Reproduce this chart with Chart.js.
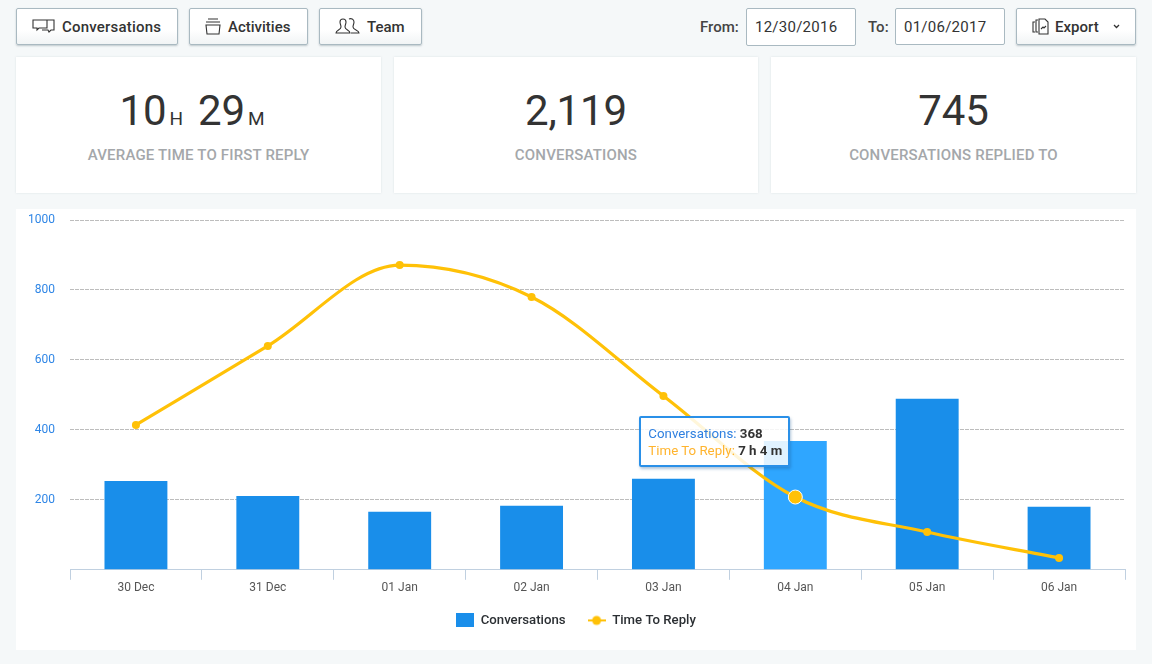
<!DOCTYPE html>
<html>
<head>
<meta charset="utf-8">
<script src="https://cdn.jsdelivr.net/npm/chart.js@4"></script>
<style>
  html, body { margin: 0; padding: 0; }
  body { width: 1152px; height: 664px; background: #f5f8f9; font-family: Roboto, sans-serif; color: #333; position: relative; overflow: hidden; }
  .btn, .date { position: absolute; top: 8px; height: 35px; box-sizing: content-box; border: 1px solid #a9b9c1; border-radius: 2px; line-height: 36px; font-size: 15px; }
  .btn { background: linear-gradient(#fff 60%, #f1f4f5); box-shadow: 0 1px 2px rgba(90,110,120,.35); font-weight: 500; white-space: nowrap; }
  .btn svg { position: absolute; top: 8px; fill: none; stroke: #333; stroke-width: 1.1; }
  .btn span { position: absolute; top: 0; }
  .date { background: #fff; font-size: 15px; padding-left: 8px; width: 100px; letter-spacing: .25px; }
  .lbl { position: absolute; top: 9px; line-height: 36px; font-size: 15px; font-weight: 500; color: #444; }
  .card { position: absolute; top: 57px; height: 136px; background: #fff; box-shadow: 0 0 2px rgba(120,140,150,.2); text-align: center; }
  .num { position: absolute; left: 0; right: 0; top: 27px; font-size: 42px; line-height: 54px; color: #333; letter-spacing: -.1px; }
  .num small { font-size: 19px; margin: 0 15px 0 3px; }
  .num small:last-child { margin-right: 13px; }
  .cap { position: absolute; left: 0; right: 0; top: 88px; font-size: 15px; line-height: 20px; font-weight: 500; color: #a4a7aa; letter-spacing: .18px; }
  #panel { position: absolute; left: 16px; top: 209px; width: 1120px; height: 441px; background: #fff; }
  #tip { position: absolute; display: none; box-sizing: border-box; width: 151px; height: 51px; padding: 7px 7px; background: rgba(255,255,255,.85); border: 2px solid #2a90e8; border-radius: 2px; box-shadow: 1px 2px 3px rgba(30,90,150,.35); font-size: 13.3px; line-height: 17px; white-space: nowrap; }
  #tip b { color: #333; font-weight: 700; }
</style>
</head>
<body>
<div class="btn" style="left:16px;width:160px">
  <svg style="left:15px" width="24" height="20" viewBox="0 0 24 20"><path d="M1 3h14v8H7l-2 2v-2H1zM15 3h7v10h-3l-2 2-1-2h-6"/></svg>
  <span style="left:45px;letter-spacing:.2px">Conversations</span>
</div>
<div class="btn" style="left:189px;width:117px">
  <svg style="left:14px" width="18" height="20" viewBox="0 0 18 20"><path d="M4 2h10M2 5h14M2 8h14l-1 9H3z"/></svg>
  <span style="left:38px">Activities</span>
</div>
<div class="btn" style="left:319px;width:101px">
  <svg style="left:15px" width="26" height="20" viewBox="0 0 26 20"><path d="M1 16c0-3 5-3 5-6 0-2-1-3-1-5 0-2 1-3 3-3s3 1 3 3c0 2-1 3-1 5 0 3 5 3 5 6zM14 2c2-1 5 0 5 3 0 2-1 3-1 5 0 3 6 3 6 6h-8"/></svg>
  <span style="left:47px">Team</span>
</div>
<div class="lbl" style="left:700px">From:</div>
<div class="date" style="left:746px;height:36px">12/30/2016</div>
<div class="lbl" style="left:868px">To:</div>
<div class="date" style="left:895px">01/06/2017</div>
<div class="btn" style="left:1016px;width:118px">
  <svg style="left:15px" width="18" height="20" viewBox="0 0 18 20"><path d="M3 5H1v10h2M6 3H4v12h2M7 2h6l3 3v12H7zM9 12l2-2 1 1 2-2"/></svg>
  <span style="left:38px">Export</span>
  <svg style="left:95px;top:15px;stroke-width:1.3" width="9" height="6" viewBox="0 0 9 6"><path d="M2 1l2.5 2.5L7 1"/></svg>
</div>

<div class="card" style="left:16px;width:365px">
  <div class="num">10<small>H</small>29<small>M</small></div>
  <div class="cap">AVERAGE TIME TO FIRST REPLY</div>
</div>
<div class="card" style="left:394px;width:364px">
  <div class="num">2,119</div>
  <div class="cap">CONVERSATIONS</div>
</div>
<div class="card" style="left:771px;width:365px">
  <div class="num">745</div>
  <div class="cap">CONVERSATIONS REPLIED TO</div>
</div>

<div id="panel">
  <canvas id="chart" width="1120" height="441"></canvas>
  <div id="tip"></div>
</div>

<script>
const days          = ['30 Dec', '31 Dec', '01 Jan', '02 Jan', '03 Jan', '04 Jan', '05 Jan', '06 Jan'];
const conversations = [254, 211, 166, 183, 260, 368, 489, 180];
const timeToReply   = [414, 640, 871, 780, 497, 208, 108, 34];
const yTicks        = [1000, 800, 600, 400, 200];
const seriesNames   = ['Conversations', 'Time To Reply'];
const hoveredDay    = 5;
const hoveredReply  = '7 h 4 m';

const BLUE   = '#198eea';
const ORANGE = '#ffc107';

// legend swatches, the library takes a canvas as point style
function swatch(draw) {
  const c = document.createElement('canvas');
  c.width = 18; c.height = 14;
  draw(c.getContext('2d'));
  return c;
}
const barSwatch = swatch(g => { g.fillStyle = BLUE; g.fillRect(0, 0, 18, 14); });
const lineSwatch = swatch(g => {
  g.fillStyle = ORANGE;
  g.fillRect(0, 6, 18, 2);
  g.beginPath(); g.arc(9, 7, 4.5, 0, Math.PI * 2); g.fill();
});

function renderTip({ chart, tooltip }) {
  const tip = document.getElementById('tip');
  if (!tooltip.dataPoints || !tooltip.dataPoints.length) { tip.style.display = 'none'; return; }
  const point = chart.getDatasetMeta(1).data[hoveredDay];
  tip.style.display = 'block';
  tip.style.left = (point.x - 156) + 'px';
  tip.style.top  = (point.y - 81) + 'px';
  tip.innerHTML =
    `<div style="color:#2f80e0">${seriesNames[0]}: <b>${conversations[hoveredDay]}</b></div>` +
    `<div style="color:#ffb42e">${seriesNames[1]}: <b>${hoveredReply}</b></div>`;
}

const chart = new Chart(document.getElementById('chart'), {
  data: {
    labels: days,
    datasets: [
      {
        type: 'bar',
        label: seriesNames[0],
        data: conversations,
        order: 2,
        backgroundColor: BLUE,
        hoverBackgroundColor: '#2fa6ff',
        barPercentage: 0.477,
        categoryPercentage: 1
      },
      {
        type: 'line',
        label: seriesNames[1],
        data: timeToReply,
        order: 1,
        borderColor: ORANGE,
        backgroundColor: ORANGE,
        borderWidth: 3.2,
        cubicInterpolationMode: 'monotone',
        pointRadius: 4,
        pointBorderWidth: 0,
        pointHoverRadius: 7,
        pointHoverBorderWidth: 1,
        pointHoverBackgroundColor: ORANGE,
        pointHoverBorderColor: '#fff'
      }
    ]
  },
  options: {
    responsive: false,
    animation: false,
    events: [],
    layout: { padding: { top: 0, right: 11, bottom: 13, left: 11 } },
    interaction: { mode: 'index', intersect: false },
    plugins: {
      tooltip: { enabled: false, external: renderTip },
      legend: {
        position: 'bottom',
        labels: {
          usePointStyle: true,
          pointStyleWidth: 18,
          boxHeight: 14,
          padding: 22,
          color: '#2b2f33',
          font: { family: 'Roboto', size: 13.2, weight: '500' },
          generateLabels: () => seriesNames.map((text, i) => ({
            text,
            datasetIndex: i,
            fontColor: '#2b2f33',
            pointStyle: i === 0 ? barSwatch : lineSwatch,
            lineWidth: 0
          }))
        }
      }
    },
    scales: {
      x: {
        grid: { drawOnChartArea: false, color: '#c0d0e0', tickLength: 10, offset: true },
        border: { color: '#c0d0e0' },
        ticks: { color: '#555', padding: 1, maxRotation: 0, font: { family: 'Roboto', size: 12 } },
        afterFit: s => { s.height = 22; }
      },
      y: {
        min: 0,
        max: 1000,
        afterBuildTicks: s => { s.ticks = yTicks.concat(0).map(value => ({ value })); },
        grid: { color: '#bdbdbd', drawTicks: false },
        border: { display: false, dash: [4, 1] },
        ticks: {
          color: '#2f86e6',
          padding: 15,
          font: { family: 'Roboto', size: 12 },
          callback: v => (yTicks.includes(v) ? v : '')
        },
        // tick padding would otherwise push the plot top down
        afterFit: s => { s.width = 43; s.paddingTop = 11; s.paddingBottom = 0; }
      }
    }
  }
});

const hovered = [{ datasetIndex: 0, index: hoveredDay }, { datasetIndex: 1, index: hoveredDay }];
chart.setActiveElements(hovered);
chart.tooltip.setActiveElements(hovered, { x: 0, y: 0 });
chart.update();
</script>
</body>
</html>
